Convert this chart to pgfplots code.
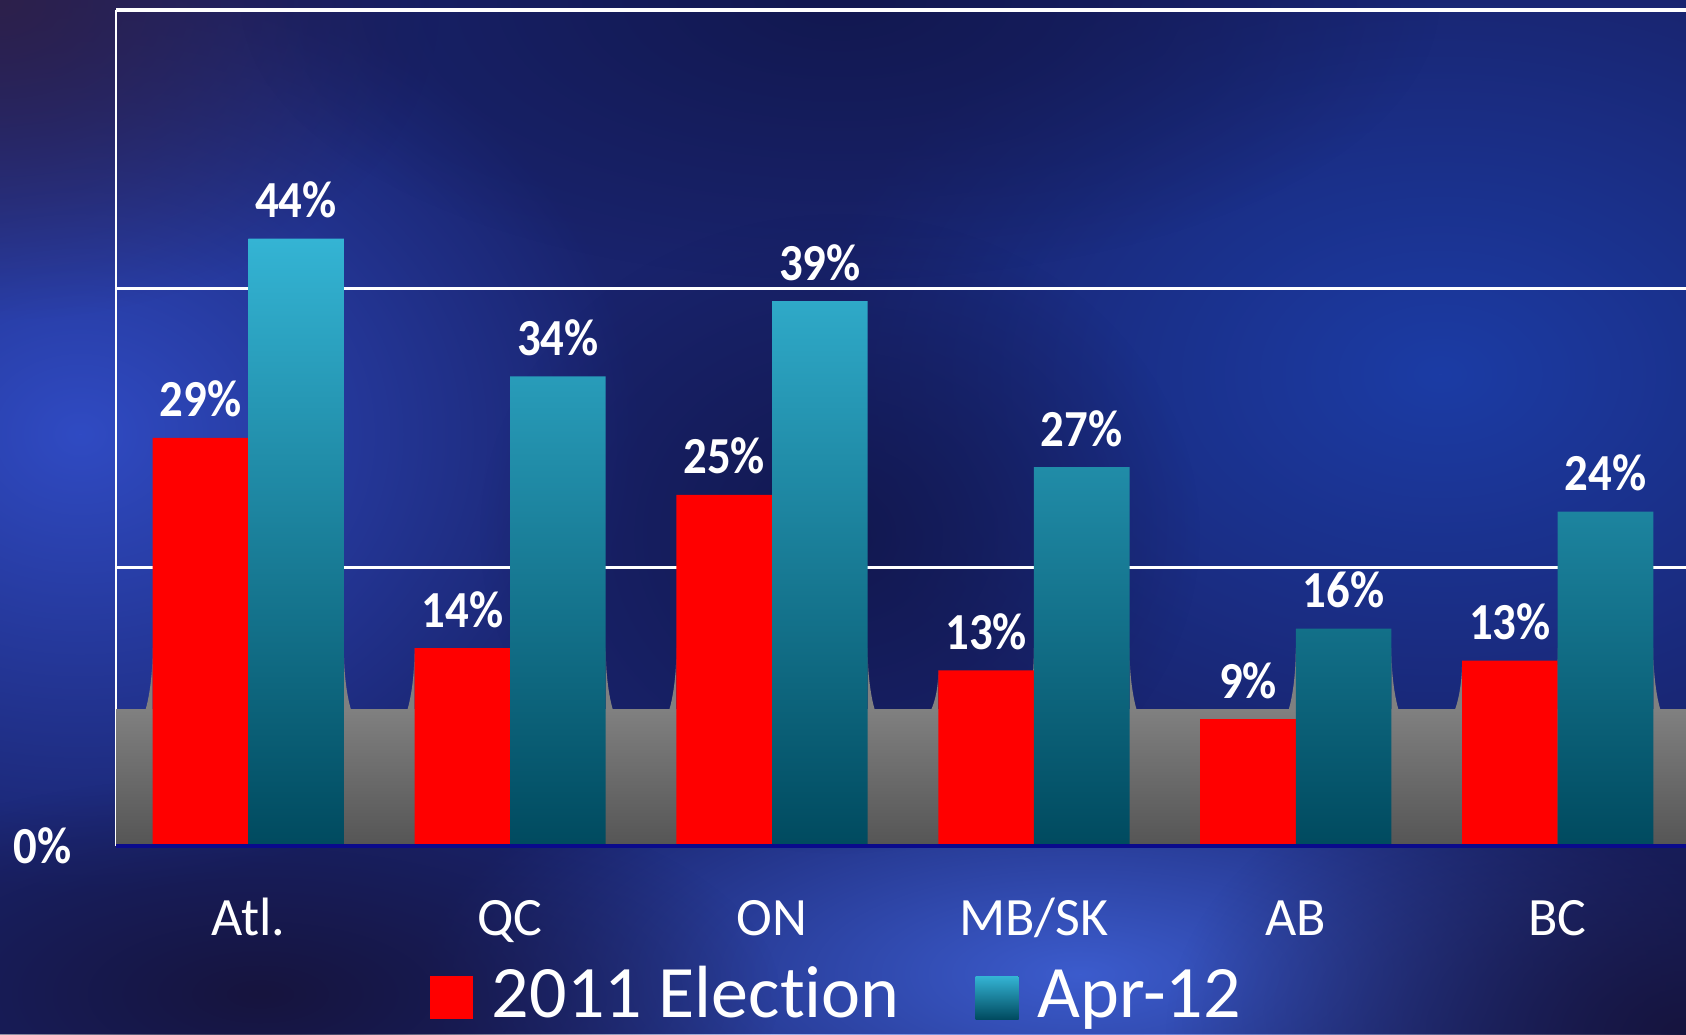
\documentclass[border=0pt]{standalone}
\usepackage{pgfplots}
\pgfplotsset{compat=1.18}
\usepackage{fontspec}
\setmainfont{Carlito}[Ligatures=NoCommon]
\newfontfamily\lab[FakeStretch=0.9,Ligatures=NoCommon]{Carlito}
\usetikzlibrary{fadings}
\definecolor{bg}{RGB}{25,35,108}
\definecolor{glowA}{RGB}{48,75,195}
\definecolor{glowB}{RGB}{28,60,165}
\definecolor{glowC}{RGB}{60,92,205}
\definecolor{darkA}{RGB}{45,32,75}
\definecolor{darkB}{RGB}{22,20,62}
\definecolor{darkC}{RGB}{18,24,80}
\definecolor{barred}{RGB}{255,0,0}
\definecolor{tealT}{RGB}{52,180,212}
\definecolor{tealB}{RGB}{0,74,95}
\definecolor{floorT}{RGB}{128,128,128}
\definecolor{floorB}{RGB}{85,85,85}
\definecolor{axblue}{RGB}{10,10,140}
\tikzfading[name=glow, inner color=transparent!0, outer color=transparent!100]
\newcommand{\fil}[4]{\fill[floorT] (axis cs:#1,9.8) -- (axis cs:#1,#2) .. controls (axis cs:#1,#3) and (axis cs:#4,9.8) .. (axis cs:#4,9.8) -- cycle;}
\begin{document}
\begin{tikzpicture}
\useasboundingbox (0,0) rectangle (843pt,517pt);
\fill[bg] (0,0) rectangle (843pt,517pt);
\begin{scope}
\clip (0,0) rectangle (843pt,517pt);
\fill[glowA, path fading=glow] (40pt,300pt) ellipse (280pt and 230pt);
\fill[glowB, path fading=glow] (720pt,330pt) ellipse (320pt and 220pt);
\fill[glowC, path fading=glow] (540pt,30pt) ellipse (330pt and 130pt);
\fill[darkA, path fading=glow] (0pt,517pt) ellipse (220pt and 160pt);
\fill[darkB, path fading=glow] (130pt,20pt) ellipse (260pt and 110pt);
\fill[darkB, path fading=glow] (843pt,0pt) ellipse (260pt and 160pt);
\fill[darkC, path fading=glow] (420pt,517pt) ellipse (300pt and 140pt);
\fill[darkC, path fading=glow] (420pt,250pt) ellipse (180pt and 160pt);
\end{scope}
\begin{axis}[
  at={(58pt,94pt)}, anchor=south west,
  scale only axis, width=785pt, height=418pt,
  xmin=-0.505, xmax=5.49, ymin=0, ymax=60,
  clip=false,
  ybar, bar width=0.365,
  axis x line*=bottom, axis y line*=left,
  x axis line style={axblue, line width=1.6pt, -},
  y axis line style={white, line width=1pt, -},
  xtick={0,1,2,3,4,5},
  xticklabels={Atl.,QC,ON,MB/SK,AB,BC},
  ytick={0,20,40,60},
  yticklabels={0\%,,,},
  major tick length=0pt,
  ymajorgrids,
  major grid style={white, line width=1.6pt},
  /pgf/number format/assume math mode=true,
  xticklabel style={font=\fontsize{27}{32}\selectfont, text=white, anchor=base, inner sep=0pt, yshift=-44.5pt},
  yticklabel style={font=\lab\bfseries\fontsize{26}{30}\selectfont, text=white, anchor=east, inner sep=0pt, xshift=-22pt},
  nodes near coords={\pgfmathprintnumber[fixed,precision=0,assume math mode=true]{\pgfplotspointmeta}\%},
  every node near coord/.append style={font=\lab\bfseries\fontsize{26}{30}\selectfont, text=white, anchor=base, inner sep=0pt, yshift=10.5pt},
  legend image code/.code={\fill[#1] (0pt,-1pt) rectangle (21.5pt,20.5pt);},
  legend columns=2,
  legend style={at={(0.2,-0.176)}, anchor=west, draw=none, fill=none, text=white,
    font=\fontsize{37}{44}\selectfont, inner sep=0pt, outer sep=0pt,
    nodes={inner sep=0pt, anchor=base},
    /tikz/every odd column/.append style={column sep=9.5pt},
    /tikz/every even column/.append style={column sep=38pt}},
]
% floor
\fill[top color=floorT, bottom color=floorB] (axis cs:-0.505,0) rectangle (axis cs:5.49,9.8);
% fillets: red left edges
\fil{-0.365}{14.2}{11.34}{-0.392}
\fil{0.635}{14.2}{11.34}{0.608}
\fil{1.635}{14.2}{11.34}{1.608}
\fil{2.635}{12.6}{10.78}{2.608}
\fil{4.635}{13.3}{11.03}{4.608}
% teal left edges
\fil{0}{14.2}{11.34}{-0.027}
\fil{1}{14.2}{11.34}{0.973}
\fil{2}{14.2}{11.34}{1.973}
\fil{3}{14.2}{11.34}{2.973}
\fil{4}{14.2}{11.34}{3.973}
\fil{5}{14.2}{11.34}{4.973}
% teal right edges
\fil{0.365}{14.2}{11.34}{0.392}
\fil{1.365}{14.2}{11.34}{1.392}
\fil{2.365}{14.2}{11.34}{2.392}
\fil{3.365}{14.2}{11.34}{3.392}
\fil{4.365}{14.2}{11.34}{4.392}
\fil{5.365}{14.2}{11.34}{5.392}
\addplot[fill=barred, draw=none, bar shift=-0.1825] coordinates {(0,29.3) (1,14.2) (2,25.2) (3,12.6) (4,9.1) (5,13.3)};
\addlegendentry{2011 Election}
\addplot[draw=none, top color=tealT, bottom color=tealB, bar shift=0.1825] coordinates {(0,43.6) (1,33.7) (2,39.1) (3,27.2) (4,15.6) (5,24.0)};
\addlegendentry{Apr-12}
\draw[axblue, line width=1.6pt] (axis cs:-0.505,0) -- (axis cs:5.49,0);
\end{axis}
\end{tikzpicture}
\end{document}
